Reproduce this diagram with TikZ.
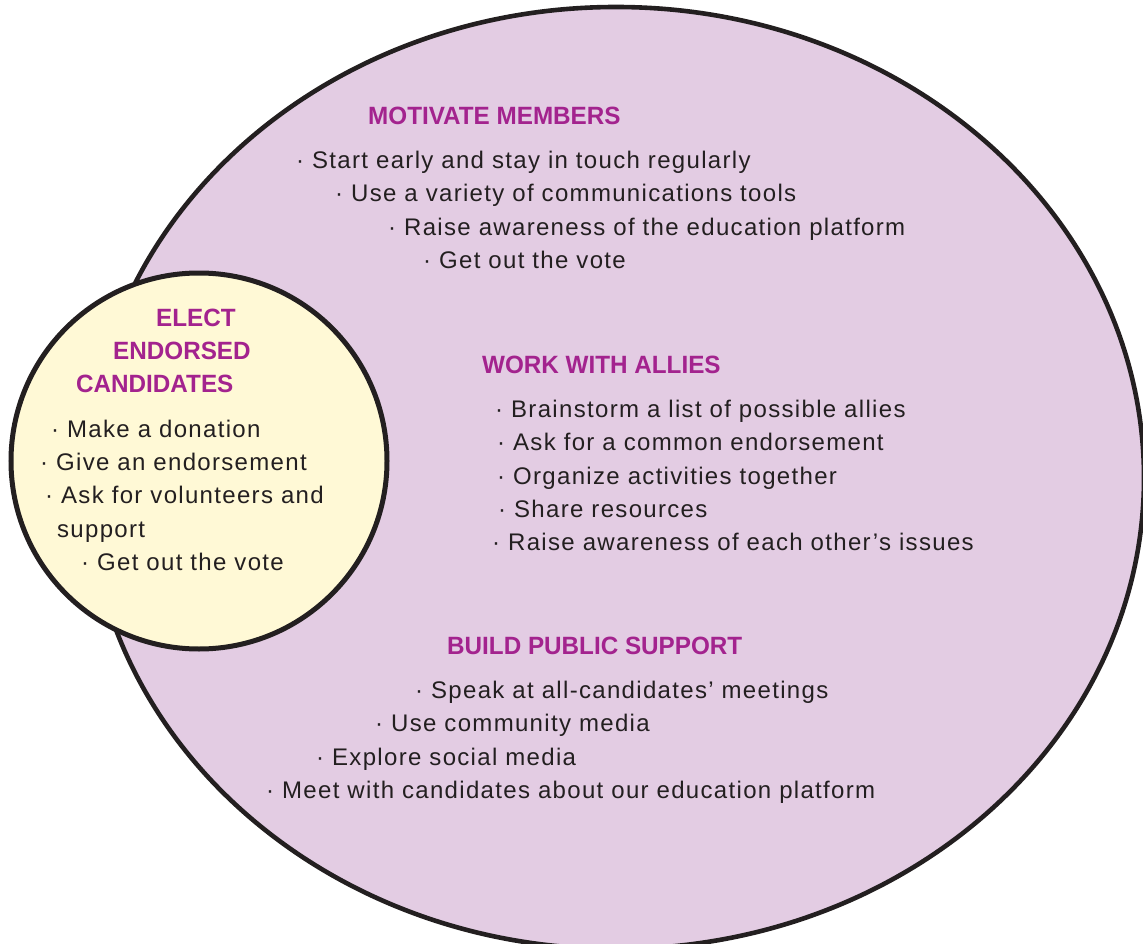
\documentclass[tikz,border=0pt]{standalone}
\usepackage{fontspec}
\setmainfont{Liberation Sans}
\newfontfamily\bodyfont{Liberation Sans}[LetterSpace=5.5]
\newfontfamily\headfont{Liberation Sans}[FakeStretch=0.97]
\usetikzlibrary{shapes.geometric}
\definecolor{plum}{HTML}{E3CCE3}
\definecolor{cream}{HTML}{FFF9D6}
\definecolor{headmag}{HTML}{A3238E}
\definecolor{ink}{HTML}{231F20}
\begin{document}
\begin{tikzpicture}[x=1pt,y=-1pt,
  item/.style={anchor=base west, inner sep=0pt, text=ink,
    font=\bodyfont\fontsize{24}{29}\selectfont},
  head/.style={anchor=base west, inner sep=0pt, text=headmag,
    font=\headfont\bfseries\fontsize{25}{30}\selectfont}]
\useasboundingbox (0,0) rectangle (1143,944);
\clip (0,0) rectangle (1143,944);

% the two overlapping areas
\node[ellipse, draw=ink, line width=4.6pt, fill=plum, inner sep=0pt,
  minimum width=1056pt, minimum height=942pt] (outer) at (616,478) {};
\node[circle, draw=ink, line width=5pt, fill=cream, inner sep=0pt,
  minimum size=376pt] (inner) at (199,461) {};

% motivate members
\node[head] (mmh) at (368,125) {MOTIVATE MEMBERS};
\node[item] (mm1) at (296,169) {\textperiodcentered\ Start early and stay in touch regularly};
\node[item] (mm2) at (335,202) {\textperiodcentered\ Use a variety of communications tools};
\node[item] (mm3) at (388,236) {\textperiodcentered\ Raise awareness of the education platform};
\node[item] (mm4) at (423,269) {\textperiodcentered\ Get out the vote};

% work with allies
\node[head] (wah) at (482,373) {WORK WITH ALLIES};
\node[item] (wa1) at (495,417) {\textperiodcentered\ Brainstorm a list of possible allies};
\node[item] (wa2) at (497,450) {\textperiodcentered\ Ask for a common endorsement};
\node[item] (wa3) at (497,484) {\textperiodcentered\ Organize activities together};
\node[item] (wa4) at (498,517) {\textperiodcentered\ Share resources};
\node[item] (wa5) at (492,550) {\textperiodcentered\ Raise awareness of each other’s issues};

% build public support
\node[head] (bph) at (447,654) {BUILD PUBLIC SUPPORT};
\node[item] (bp1) at (415,698) {\textperiodcentered\ Speak at all-candidates’ meetings};
\node[item] (bp2) at (375,731) {\textperiodcentered\ Use community media};
\node[item] (bp3) at (316,765) {\textperiodcentered\ Explore social media};
\node[item] (bp4) at (266,798) {\textperiodcentered\ Meet with candidates about our education platform};

% elect endorsed candidates
\node[head] (ec1) at (156,326) {ELECT};
\node[head] (ec2) at (113,359) {ENDORSED};
\node[head] (ec3) at (76,392) {CANDIDATES};
\node[item] (ei1) at (51,437) {\textperiodcentered\ Make a donation};
\node[item] (ei2) at (40,470) {\textperiodcentered\ Give an endorsement};
\node[item] (ei3) at (45,503) {\textperiodcentered\ Ask for volunteers and};
\node[item] (ei4) at (57,537) {support};
\node[item] (ei5) at (81,570) {\textperiodcentered\ Get out the vote};
\end{tikzpicture}
\end{document}
